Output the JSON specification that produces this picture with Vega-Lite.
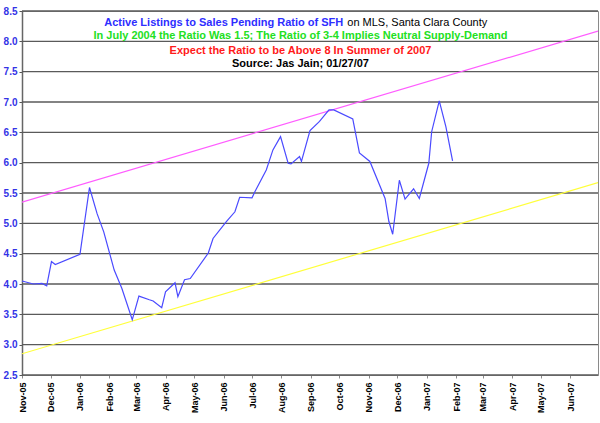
{
  "$schema": "https://vega.github.io/schema/vega-lite/v6.json",
  "autosize": "none",
  "width": 576,
  "height": 364,
  "padding": {"left": 22, "top": 11, "right": 2, "bottom": 48},
  "background": "white",
  "config": {
    "font": "Liberation Sans",
    "view": {"stroke": "#8a8a8a", "strokeWidth": 1},
    "axisY": {"labelOverlap": false, "grid": false}
  },
  "datasets": {
    "gridlines": [
      {"value": 2.5}, {"value": 3.0}, {"value": 3.5}, {"value": 4.0}, {"value": 4.5},
      {"value": 5.0}, {"value": 5.5}, {"value": 6.0}, {"value": 6.5}, {"value": 7.0},
      {"value": 7.5}, {"value": 8.0}, {"value": 8.5}
    ],
    "ratio": [
      {"date": "2005-11-01", "value": 4.05},
      {"date": "2005-11-13", "value": 4.0},
      {"date": "2005-11-22", "value": 4.01},
      {"date": "2005-11-27", "value": 3.97},
      {"date": "2005-12-02", "value": 4.37},
      {"date": "2005-12-06", "value": 4.32},
      {"date": "2006-01-01", "value": 4.49},
      {"date": "2006-01-11", "value": 5.59},
      {"date": "2006-01-19", "value": 5.16},
      {"date": "2006-01-26", "value": 4.86},
      {"date": "2006-02-06", "value": 4.23},
      {"date": "2006-02-14", "value": 3.93},
      {"date": "2006-02-25", "value": 3.41},
      {"date": "2006-03-04", "value": 3.8},
      {"date": "2006-03-15", "value": 3.74},
      {"date": "2006-03-19", "value": 3.72},
      {"date": "2006-03-28", "value": 3.61},
      {"date": "2006-04-01", "value": 3.87},
      {"date": "2006-04-11", "value": 4.02},
      {"date": "2006-04-14", "value": 3.79},
      {"date": "2006-04-21", "value": 4.07},
      {"date": "2006-04-27", "value": 4.09},
      {"date": "2006-05-16", "value": 4.51},
      {"date": "2006-05-21", "value": 4.75},
      {"date": "2006-06-04", "value": 5.03},
      {"date": "2006-06-13", "value": 5.19},
      {"date": "2006-06-18", "value": 5.43},
      {"date": "2006-07-01", "value": 5.42},
      {"date": "2006-07-04", "value": 5.52},
      {"date": "2006-07-16", "value": 5.88},
      {"date": "2006-07-23", "value": 6.21},
      {"date": "2006-07-31", "value": 6.43},
      {"date": "2006-08-08", "value": 5.99},
      {"date": "2006-08-11", "value": 5.98},
      {"date": "2006-08-20", "value": 6.1},
      {"date": "2006-08-22", "value": 6.02},
      {"date": "2006-08-31", "value": 6.53},
      {"date": "2006-09-10", "value": 6.68},
      {"date": "2006-09-20", "value": 6.87},
      {"date": "2006-09-25", "value": 6.87},
      {"date": "2006-10-15", "value": 6.72},
      {"date": "2006-10-22", "value": 6.16},
      {"date": "2006-11-02", "value": 6.02},
      {"date": "2006-11-18", "value": 5.41},
      {"date": "2006-11-22", "value": 5.03},
      {"date": "2006-11-26", "value": 4.82},
      {"date": "2006-12-03", "value": 5.71},
      {"date": "2006-12-09", "value": 5.4},
      {"date": "2006-12-18", "value": 5.57},
      {"date": "2006-12-24", "value": 5.41},
      {"date": "2007-01-03", "value": 5.99},
      {"date": "2007-01-06", "value": 6.51},
      {"date": "2007-01-14", "value": 7.02},
      {"date": "2007-01-21", "value": 6.59},
      {"date": "2007-01-28", "value": 6.03}
    ],
    "trend": [
      {"date": "2005-11-01", "value": 5.35, "series": "upper"},
      {"date": "2007-06-30", "value": 8.17, "series": "upper"},
      {"date": "2005-11-01", "value": 2.85, "series": "lower"},
      {"date": "2007-06-30", "value": 5.67, "series": "lower"}
    ],
    "notes": [
      {"part": "head", "date": "2006-10-05", "value": 8.3, "kind": "blue", "label": "Active Listings to Sales Pending Ratio of SFH"},
      {"part": "tail", "date": "2006-10-05", "value": 8.3, "kind": "black", "label": "on MLS, Santa Clara County"},
      {"part": "center", "date": "2006-08-21", "value": 8.08, "kind": "green", "label": "In July 2004 the Ratio Was 1.5; The Ratio of 3-4 Implies Neutral Supply-Demand"},
      {"part": "center", "date": "2006-08-21", "value": 7.84, "kind": "red", "label": "Expect the Ratio to be Above 8 In Summer of 2007"},
      {"part": "center", "date": "2006-08-21", "value": 7.62, "kind": "black", "label": "Source: Jas Jain; 01/27/07"}
    ]
  },
  "resolve": {"scale": {"color": "independent"}},
  "layer": [
    {
      "data": {"name": "gridlines"},
      "mark": {"type": "rule", "color": "#5a5a5a", "strokeWidth": 1.3},
      "encoding": {
        "y": {
          "field": "value",
          "type": "quantitative",
          "scale": {"domain": [2.5, 8.5], "nice": false, "zero": false},
          "axis": {"title": null, "grid": false, "values": [2.5, 3, 3.5, 4, 4.5, 5, 5.5, 6, 6.5, 7, 7.5, 8, 8.5], "format": ".1f", "labelFont": "Liberation Sans", "labelFontSize": 10, "labelFontWeight": "bold", "labelColor": "#3333e6", "labelPadding": 2, "labelFlush": false, "labelOverlap": false, "tickSize": 3, "tickColor": "#555555", "domainColor": "#666666", "domainWidth": 1.5}
        }
      }
    },
    {
      "data": {"name": "trend"},
      "mark": {"type": "line", "strokeWidth": 1.2, "clip": true},
      "encoding": {
        "x": {
          "field": "date",
          "type": "temporal",
          "scale": {
            "type": "utc",
            "domain": [
              {"year": 2005, "month": 11, "date": 1, "utc": true},
              {"year": 2007, "month": 6, "date": 30, "utc": true}
            ],
            "nice": false
          },
          "axis": {
            "title": null,
            "format": "%b-%y",
            "tickCount": {"interval": "month", "step": 1},
            "labelAngle": -90,
            "labelAlign": "right",
            "labelBaseline": "middle",
            "labelFont": "Liberation Sans",
            "labelFontSize": 9,
            "labelFontWeight": "bold",
            "labelColor": "black",
            "labelPadding": 4,
            "labelFlush": false,
            "labelOverlap": false,
            "grid": false,
            "domainColor": "#8a8a8a",
            "tickColor": "#8a8a8a",
            "tickSize": 3
          }
        },
        "y": {
          "field": "value",
          "type": "quantitative",
          "axis": {"title": null, "grid": false, "values": [2.5, 3, 3.5, 4, 4.5, 5, 5.5, 6, 6.5, 7, 7.5, 8, 8.5], "format": ".1f", "labelFont": "Liberation Sans", "labelFontSize": 10, "labelFontWeight": "bold", "labelColor": "#3333e6", "labelPadding": 2, "labelFlush": false, "labelOverlap": false, "tickSize": 3, "tickColor": "#555555", "domainColor": "#666666", "domainWidth": 1.5}
        },
        "detail": {"field": "series"},
        "color": {
          "field": "series",
          "type": "nominal",
          "scale": {"domain": ["upper", "lower"], "range": ["#ff5cff", "#ffff3a"]},
          "legend": null
        }
      }
    },
    {
      "data": {"name": "ratio"},
      "mark": {"type": "line", "color": "#4a4aff", "strokeWidth": 1.2},
      "encoding": {
        "x": {"field": "date", "type": "temporal"},
        "y": {
          "field": "value",
          "type": "quantitative",
          "axis": {"title": null, "grid": false, "values": [2.5, 3, 3.5, 4, 4.5, 5, 5.5, 6, 6.5, 7, 7.5, 8, 8.5], "format": ".1f", "labelFont": "Liberation Sans", "labelFontSize": 10, "labelFontWeight": "bold", "labelColor": "#3333e6", "labelPadding": 2, "labelFlush": false, "labelOverlap": false, "tickSize": 3, "tickColor": "#555555", "domainColor": "#666666", "domainWidth": 1.5}
        }
      }
    },
    {
      "data": {"name": "notes"},
      "transform": [{"filter": "datum.part === 'center'"}],
      "mark": {"type": "text", "align": "center", "baseline": "middle", "fontSize": 11, "fontWeight": "bold", "font": "Liberation Sans"},
      "encoding": {
        "x": {"field": "date", "type": "temporal"},
        "y": {
          "field": "value",
          "type": "quantitative",
          "axis": {"title": null, "grid": false, "values": [2.5, 3, 3.5, 4, 4.5, 5, 5.5, 6, 6.5, 7, 7.5, 8, 8.5], "format": ".1f", "labelFont": "Liberation Sans", "labelFontSize": 10, "labelFontWeight": "bold", "labelColor": "#3333e6", "labelPadding": 2, "labelFlush": false, "labelOverlap": false, "tickSize": 3, "tickColor": "#555555", "domainColor": "#666666", "domainWidth": 1.5}
        },
        "text": {"field": "label"},
        "color": {
          "field": "kind",
          "type": "nominal",
          "scale": {"domain": ["blue", "black", "green", "red"], "range": ["#2e2eff", "#000000", "#22e022", "#ff1a1a"]},
          "legend": null
        }
      }
    },
    {
      "data": {"name": "notes"},
      "transform": [{"filter": "datum.part === 'head'"}],
      "mark": {"type": "text", "align": "right", "baseline": "middle", "fontSize": 11, "fontWeight": "bold", "font": "Liberation Sans", "color": "#2e2eff"},
      "encoding": {
        "x": {"field": "date", "type": "temporal"},
        "y": {
          "field": "value",
          "type": "quantitative",
          "axis": {"title": null, "grid": false, "values": [2.5, 3, 3.5, 4, 4.5, 5, 5.5, 6, 6.5, 7, 7.5, 8, 8.5], "format": ".1f", "labelFont": "Liberation Sans", "labelFontSize": 10, "labelFontWeight": "bold", "labelColor": "#3333e6", "labelPadding": 2, "labelFlush": false, "labelOverlap": false, "tickSize": 3, "tickColor": "#555555", "domainColor": "#666666", "domainWidth": 1.5}
        },
        "text": {"field": "label"}
      }
    },
    {
      "data": {"name": "notes"},
      "transform": [{"filter": "datum.part === 'tail'"}],
      "mark": {"type": "text", "align": "left", "baseline": "middle", "dx": 4, "fontSize": 11, "fontWeight": "normal", "font": "Liberation Sans", "color": "#000000"},
      "encoding": {
        "x": {"field": "date", "type": "temporal"},
        "y": {
          "field": "value",
          "type": "quantitative",
          "axis": {"title": null, "grid": false, "values": [2.5, 3, 3.5, 4, 4.5, 5, 5.5, 6, 6.5, 7, 7.5, 8, 8.5], "format": ".1f", "labelFont": "Liberation Sans", "labelFontSize": 10, "labelFontWeight": "bold", "labelColor": "#3333e6", "labelPadding": 2, "labelFlush": false, "labelOverlap": false, "tickSize": 3, "tickColor": "#555555", "domainColor": "#666666", "domainWidth": 1.5}
        },
        "text": {"field": "label"}
      }
    }
  ]
}
